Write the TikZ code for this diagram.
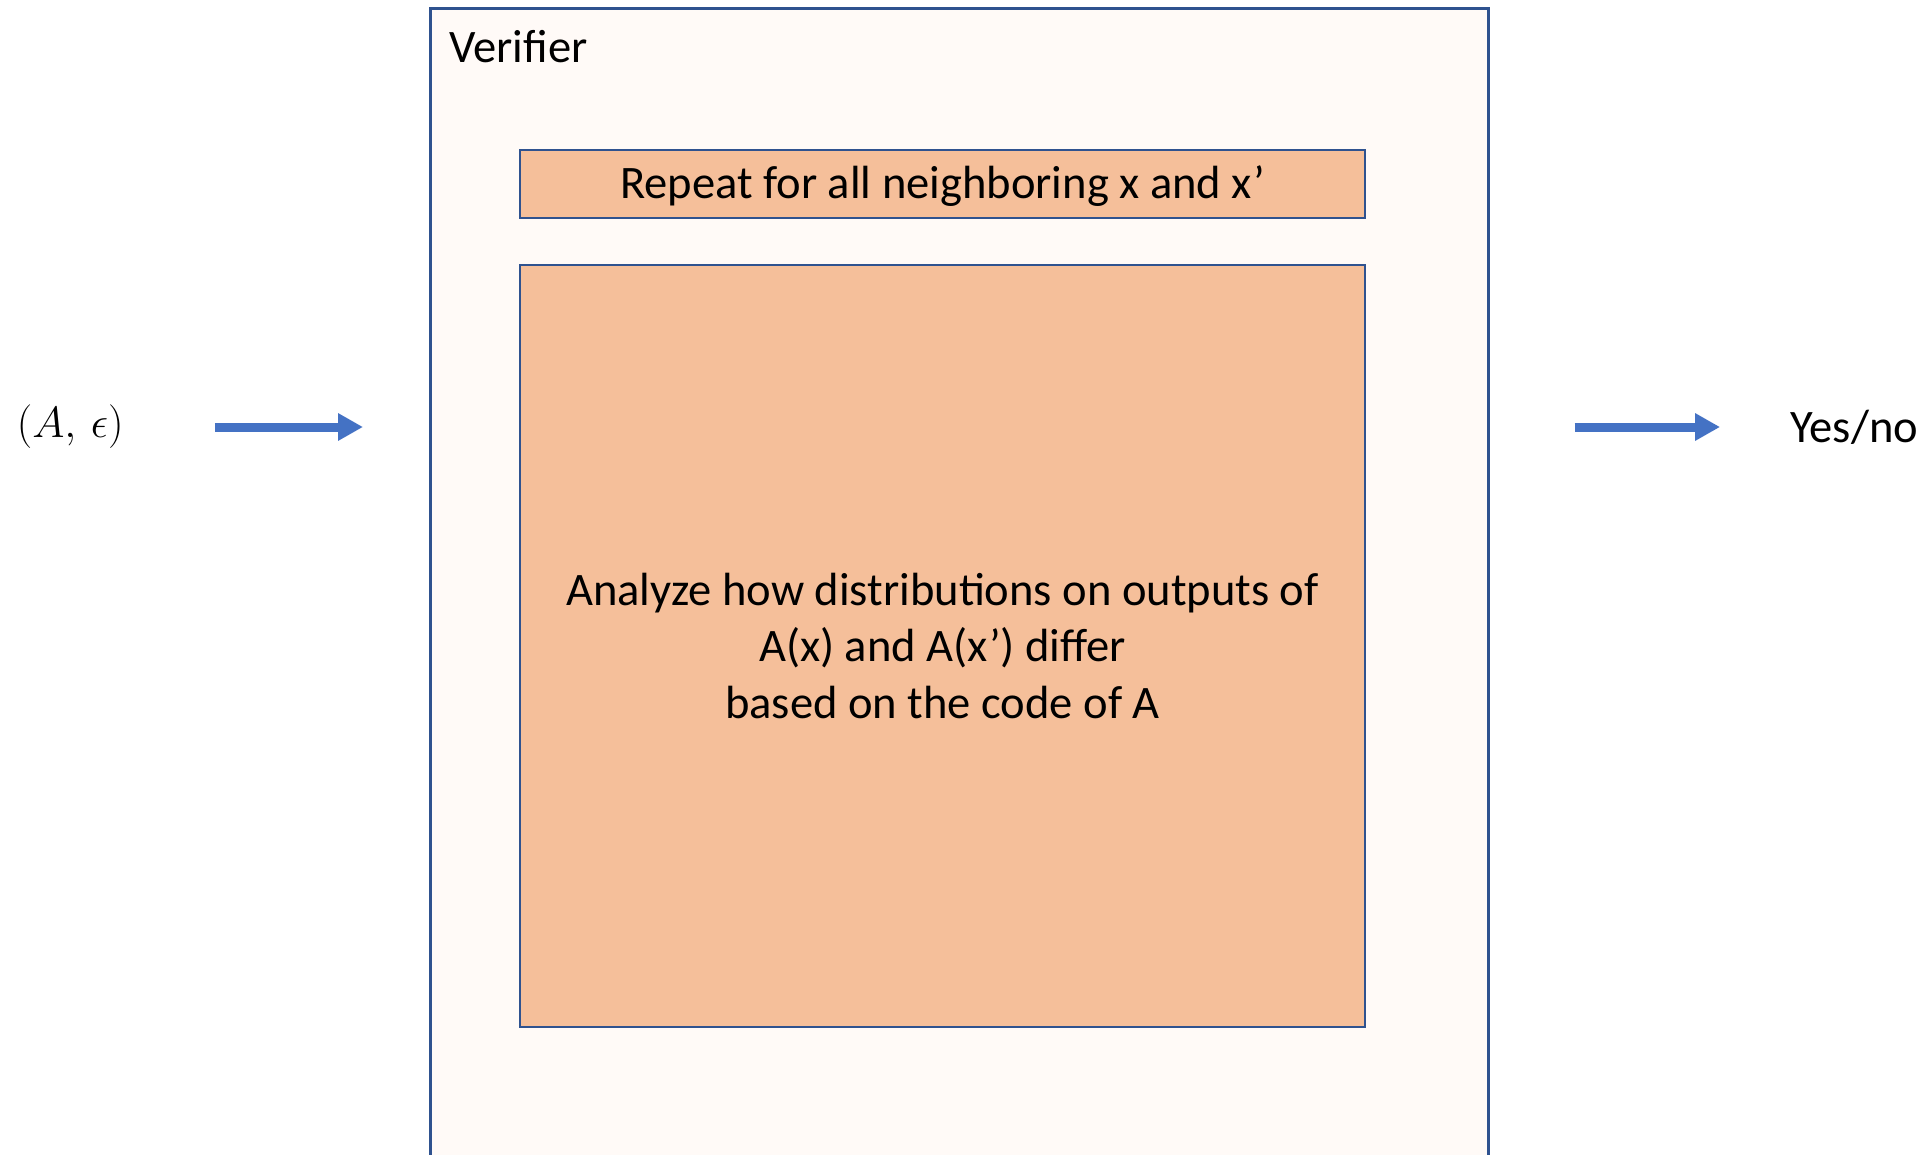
\documentclass[tikz,border=0pt]{standalone}
\usepackage{fontspec}
\setmainfont{Carlito}
\usetikzlibrary{positioning,arrows.meta}
\definecolor{BoxBlue}{rgb}{0.1843137,0.3215686,0.5607843}
\definecolor{ArrowBlue}{rgb}{0.2666667,0.4470588,0.7686275}
\definecolor{StepOrange}{rgb}{0.9607843,0.7490196,0.6039216}
\definecolor{PanelCream}{rgb}{1.0000000,0.9803922,0.9686275}

\begin{document}
\begin{tikzpicture}[x=0.02cm, y=-0.02cm,
  panel/.style={draw=BoxBlue, line width=1.6pt, fill=PanelCream, inner sep=0pt},
  stepbox/.style={draw=BoxBlue, line width=1.4pt, fill=StepOrange, minimum width=16.9cm, align=center},
  lbl/.style={font=\fontsize{26.5}{32.4}\selectfont, inner sep=0pt},
  flow/.style={ArrowBlue, line width=0.18cm, -{Triangle[length=0.5cm,width=0.52cm]}}]
  \useasboundingbox (0,0) rectangle (1932,1155);
  \node[panel, minimum width=21.16cm, minimum height=23.9cm, anchor=north west] (verifier) at (429,7) {};
  \node[lbl, anchor=base west] (title) at (449,63) {Verifier};
  \node[stepbox, lbl, minimum height=1.36cm, text height=22pt, text depth=5.3pt] (repeat) at (942.5,184) {Repeat for all neighboring x and x’};
  \node[stepbox, lbl, minimum height=15.24cm] (analyze) at (942.5,646) {Analyze how distributions on outputs of\\A(x) and A(x’) differ\\based on the code of A};
  \node[lbl, font=\fontsize{29.5}{36}\selectfont, anchor=east] (input) at (124,427) {$(A,\,\epsilon)$};
  \node[lbl, anchor=west] (output) at (1790,427) {Yes/no};
  \draw[flow, shorten <=1.82cm, shorten >=1.32cm] (input.east) -- (input.east -| verifier.west);
  \draw[flow, shorten <=1.7cm, shorten >=1.4cm] (verifier.east |- output.west) -- (output.west);
\end{tikzpicture}
\end{document}
